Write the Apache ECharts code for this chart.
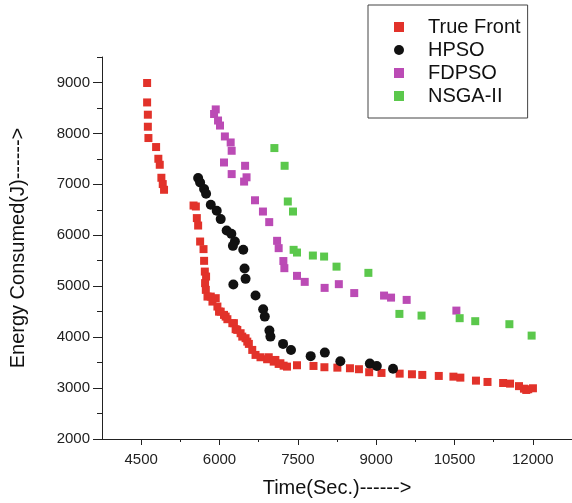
<!DOCTYPE html>
<html>
<head>
<meta charset="utf-8">
<script src="https://cdn.jsdelivr.net/npm/echarts@6/dist/echarts.min.js"></script>
<style>
  html, body { margin: 0; padding: 0; background: #fff; }
  #chart { width: 572px; height: 503px; }
</style>
</head>
<body>
<div id="chart"></div>
<script>
// values: [time (s), energy (J)]
var trueFront = [
  [4614, 8990], [4614, 8608], [4628, 8367], [4628, 8131], [4639, 7909], [4786, 7732],
  [4829, 7502], [4856, 7384], [4887, 7129], [4913, 7005], [4938, 6893],
  [5503, 6584], [5547, 6565], [5566, 6337], [5591, 6191], [5629, 5877], [5694, 5728],
  [5705, 5498], [5719, 5287], [5743, 5189], [5724, 5060], [5738, 4928], [5770, 4796],
  [5833, 4796], [5865, 4698], [5928, 4765], [5960, 4600], [5991, 4501], [6023, 4501],
  [6086, 4437], [6118, 4403], [6151, 4352], [6246, 4274], [6276, 4274], [6309, 4156],
  [6341, 4142], [6404, 4077], [6436, 4010], [6499, 3979], [6532, 3912], [6562, 3867],
  [6627, 3749], [6690, 3651], [6785, 3605], [6912, 3566], [6943, 3605], [7038, 3519],
  [7070, 3552], [7133, 3474], [7166, 3487], [7228, 3440], [7293, 3421],
  [7484, 3448], [7800, 3434], [8009, 3409], [8257, 3401], [8498, 3389], [8670, 3370],
  [8866, 3311], [9102, 3297], [9450, 3283], [9685, 3271], [9883, 3258], [10199, 3238],
  [10479, 3224], [10612, 3205], [10911, 3146], [11132, 3120], [11431, 3100], [11564, 3087],
  [11735, 3038], [11830, 2988], [11874, 2963], [11912, 2977], [12002, 2996]
];
var hpso = [
  [5591, 7123], [5629, 7036], [5705, 6907], [5743, 6814], [5833, 6598], [5947, 6480],
  [6023, 6317], [6137, 6093], [6227, 6028], [6295, 5877], [6257, 5792], [6455, 5714],
  [6480, 5346], [6499, 5144], [6265, 5032], [6690, 4816], [6836, 4549], [6867, 4403],
  [6956, 4128], [6975, 4010], [7217, 3867], [7369, 3749], [7746, 3627], [8017, 3696],
  [8314, 3527], [8879, 3480], [9012, 3434], [9323, 3381]
];
var fdpso = [
  [5928, 8471], [5896, 8381], [5972, 8253], [6010, 8154], [6103, 7940], [6214, 7822],
  [6233, 7659], [6086, 7429], [6233, 7201], [6490, 7364], [6518, 7138], [6471, 7054],
  [6680, 6687], [6832, 6466], [6952, 6258], [7103, 5891], [7133, 5747], [7223, 5494],
  [7242, 5354], [7484, 5203], [7632, 5085], [8013, 4967], [8285, 5040], [8580, 4865],
  [9151, 4816], [9285, 4776], [9584, 4731], [10536, 4521]
];
var nsga = [
  [7051, 7712], [7247, 7364], [7308, 6663], [7407, 6466], [7419, 5714], [7484, 5661],
  [7788, 5602], [8003, 5582], [8241, 5384], [8851, 5262], [9445, 4456], [9869, 4423],
  [10599, 4372], [10897, 4313], [11551, 4254], [11977, 4030]
];

var xTicks = [4500, 6000, 7500, 9000, 10500, 12000];
var xMinorTicks = [5250, 6750, 8250, 9750, 11250, 12750];
var yTicks = [2000, 3000, 4000, 5000, 6000, 7000, 8000, 9000];
var yMinorTicks = [2500, 3500, 4500, 5500, 6500, 7500, 8500, 9500];

var font = "'Liberation Sans', Arial, sans-serif";
var axisColor = '#222';
function plain(v) { return String(v); }

var chart = echarts.init(document.getElementById('chart'));
chart.setOption({
  animation: false,
  grid: { left: 101, top: 57, width: 472, height: 382 },
  legend: {
    orient: 'vertical',
    left: 368,
    top: 5,
    padding: [12, 7, 12, 26],
    itemGap: 3,
    itemWidth: 10,
    itemHeight: 10,
    borderColor: '#444',
    borderWidth: 1,
    textStyle: { fontFamily: font, fontSize: 20, color: '#111', lineHeight: 20, padding: [0, 0, 0, 19] },
    data: [
      { name: 'True Front', icon: 'rect' },
      { name: 'HPSO', icon: 'circle' },
      { name: 'FDPSO', icon: 'rect' },
      { name: 'NSGA-II', icon: 'rect' }
    ]
  },
  xAxis: [{
    type: 'value',
    min: 3750,
    max: 12750,
    name: 'Time(Sec.)------>',
    nameLocation: 'middle',
    nameGap: 39,
    nameTextStyle: { fontFamily: font, fontSize: 20, color: '#111' },
    axisLine: { lineStyle: { color: axisColor, width: 1 } },
    axisTick: { customValues: xTicks, length: 6, lineStyle: { color: axisColor } },
    axisLabel: { customValues: xTicks, formatter: plain, fontFamily: font, fontSize: 15, color: '#222', margin: 13 },
    splitLine: { show: false }
  }, {
    type: 'value',
    position: 'bottom',
    min: 3750,
    max: 12750,
    axisLine: { show: false },
    axisTick: { customValues: xMinorTicks, length: 3, lineStyle: { color: axisColor } },
    axisLabel: { show: false },
    splitLine: { show: false }
  }],
  yAxis: [{
    type: 'value',
    min: 2000,
    max: 9500,
    name: 'Energy Consumed(J)------>',
    nameLocation: 'middle',
    nameGap: 74,
    nameTextStyle: { fontFamily: font, fontSize: 20, color: '#111' },
    axisLine: { show: true, lineStyle: { color: axisColor, width: 1 } },
    axisTick: { show: true, customValues: yTicks, length: 9, lineStyle: { color: axisColor } },
    axisLabel: { customValues: yTicks, formatter: plain, fontFamily: font, fontSize: 15, color: '#222', margin: 12 },
    splitLine: { show: false }
  }, {
    type: 'value',
    position: 'left',
    min: 2000,
    max: 9500,
    axisLine: { show: false },
    axisTick: { show: true, customValues: yMinorTicks, length: 5, lineStyle: { color: axisColor } },
    axisLabel: { show: false },
    splitLine: { show: false }
  }],
  series: [
    { name: 'True Front', type: 'scatter', symbol: 'rect', symbolSize: 8,
      itemStyle: { color: '#e2322a', opacity: 1 }, data: trueFront },
    { name: 'HPSO', type: 'scatter', symbol: 'circle', symbolSize: 10,
      itemStyle: { color: '#111111', opacity: 1 }, data: hpso },
    { name: 'FDPSO', type: 'scatter', symbol: 'rect', symbolSize: 8,
      itemStyle: { color: '#bb4bb5', opacity: 1 }, data: fdpso },
    { name: 'NSGA-II', type: 'scatter', symbol: 'rect', symbolSize: 8,
      itemStyle: { color: '#5bc84c', opacity: 1 }, data: nsga }
  ]
});
</script>
</body>
</html>
